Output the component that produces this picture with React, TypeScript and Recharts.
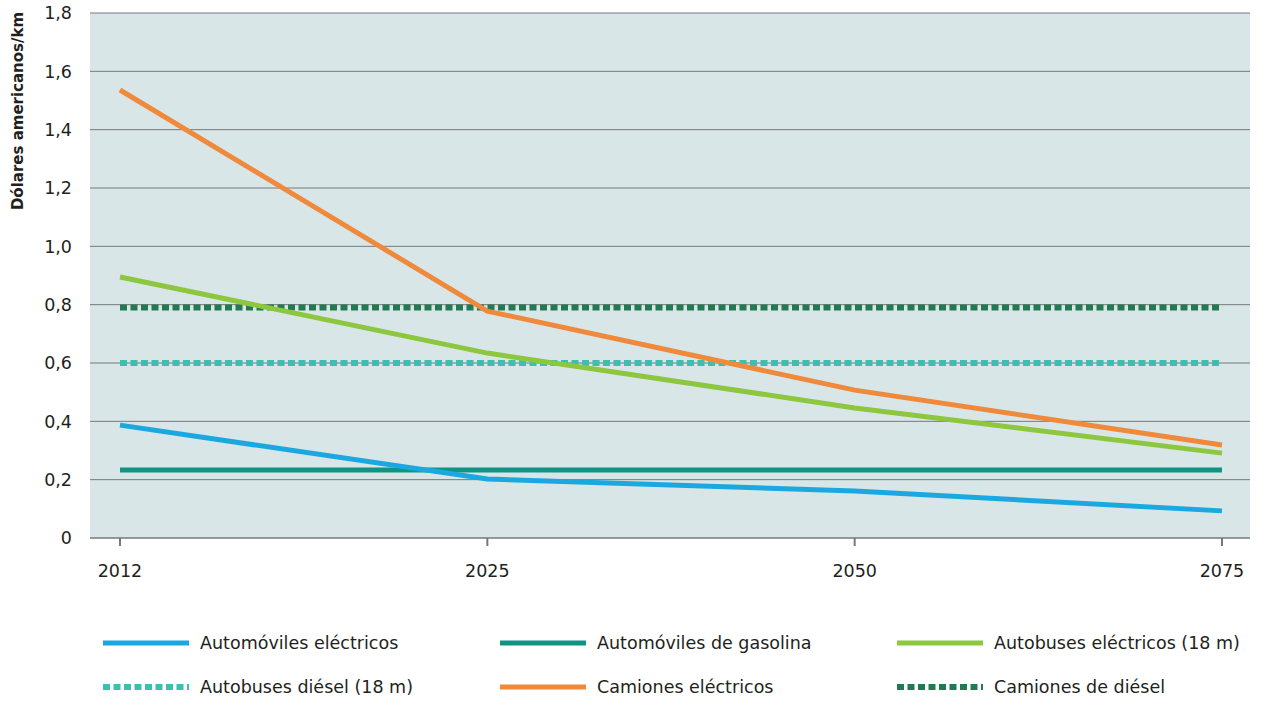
import { LineChart, Line, XAxis, YAxis, CartesianGrid } from 'recharts';

const years = ['2012', '2025', '2050', '2075'];
const autosElectricos = [0.387, 0.202, 0.161, 0.093];
const autosGasolina = [0.233, 0.233, 0.233, 0.233];
const busesElectricos = [0.895, 0.634, 0.446, 0.291];
const busesDiesel = [0.6, 0.6, 0.6, 0.6];
const camionesElectricos = [1.536, 0.778, 0.507, 0.319];
const camionesDiesel = [0.79, 0.79, 0.79, 0.79];
const yTicks = [0, 0.2, 0.4, 0.6, 0.8, 1.0, 1.2, 1.4, 1.6, 1.8];

const data = years.map((year, i) => ({
  year,
  autosElectricos: autosElectricos[i],
  autosGasolina: autosGasolina[i],
  busesElectricos: busesElectricos[i],
  busesDiesel: busesDiesel[i],
  camionesElectricos: camionesElectricos[i],
  camionesDiesel: camionesDiesel[i],
}));

const FONT = '"DejaVu Sans", "Noto Sans", sans-serif';

const series = [
  { key: 'autosElectricos', name: 'Automóviles eléctricos', color: '#1ba8e0', dashed: false },
  { key: 'autosGasolina', name: 'Automóviles de gasolina', color: '#0e9384', dashed: false },
  { key: 'busesElectricos', name: 'Autobuses eléctricos (18 m)', color: '#8dc63f', dashed: false },
  { key: 'busesDiesel', name: 'Autobuses diésel (18 m)', color: '#3cbfae', dashed: true },
  { key: 'camionesElectricos', name: 'Camiones eléctricos', color: '#ef8a3c', dashed: false },
  { key: 'camionesDiesel', name: 'Camiones de diésel', color: '#237a52', dashed: true },
];

// draw order: dashed reference lines under the falling lines
const drawOrder = ['autosGasolina', 'busesDiesel', 'camionesDiesel', 'autosElectricos', 'busesElectricos', 'camionesElectricos'];

const columnX = [103, 500, 897];

function LegendBlock() {
  return (
    <div style={{ position: 'absolute', left: 0, top: 632, width: 1261, height: 80, fontFamily: FONT }}>
      {series.map((s, i) => {
        const col = i % 3;
        const row = Math.floor(i / 3);
        return (
          <div
            key={s.key}
            style={{
              position: 'absolute',
              left: columnX[col],
              top: row * 44,
              display: 'flex',
              alignItems: 'center',
              height: 22,
              whiteSpace: 'nowrap',
            }}
          >
            <svg width={86} height={8} style={{ marginRight: 11 }}>
              <line
                x1={0}
                y1={4}
                x2={86}
                y2={4}
                stroke={s.color}
                strokeWidth={s.dashed ? 6 : 5}
                strokeDasharray={s.dashed ? '7 3.5' : undefined}
              />
            </svg>
            <span style={{ fontSize: 17.5, color: '#231f20' }}>{s.name}</span>
          </div>
        );
      })}
    </div>
  );
}

export default function App() {
  return (
    <div style={{ position: 'absolute', left: 0, top: 0, width: 1261, height: 701, background: '#fff' }}>
      <LineChart
        width={1261}
        height={701}
        data={data}
        margin={{ top: 13, right: 11, left: 0, bottom: 113 }}
      >
        <CartesianGrid vertical={false} stroke="#77787b" strokeWidth={1} fill="#d9e6e7" />
        <XAxis
          dataKey="year"
          padding={{ left: 30, right: 28 }}
          tick={{ fill: '#231f20', fontSize: 17.5, fontFamily: FONT }}
          tickLine={{ stroke: '#77787b', strokeWidth: 2 }}
          tickSize={8}
          tickMargin={19}
          axisLine={{ stroke: '#77787b', strokeWidth: 1 }}
          height={50}
        />
        <YAxis
          domain={[0, 1.8]}
          ticks={yTicks}
          interval={0}
          width={90}
          axisLine={false}
          tickLine={false}
          tickSize={6}
          tickMargin={12}
          tickFormatter={(v: number) => (v === 0 ? '0' : v.toFixed(1).replace('.', ','))}
          tick={{ fill: '#231f20', fontSize: 17.5, fontFamily: FONT }}
          label={{
            content: () => (
              <text
                x={18}
                y={111}
                transform="rotate(-90 18 111)"
                textAnchor="middle"
                dominantBaseline="central"
                style={{ fontFamily: FONT, fontSize: 15, fontWeight: 700, fill: '#231f20' }}
              >
                Dólares americanos/km
              </text>
            ),
          }}
        />
        {drawOrder.map((k) => {
          const s = series.find((x) => x.key === k)!;
          return (
            <Line
              key={s.key}
              type="linear"
              dataKey={s.key}
              name={s.name}
              stroke={s.color}
              strokeWidth={s.dashed ? 6 : 5}
              strokeDasharray={s.dashed ? '7 3.5' : undefined}
              dot={false}
              activeDot={false}
              isAnimationActive={false}
            />
          );
        })}
      </LineChart>
      <LegendBlock />
    </div>
  );
}
